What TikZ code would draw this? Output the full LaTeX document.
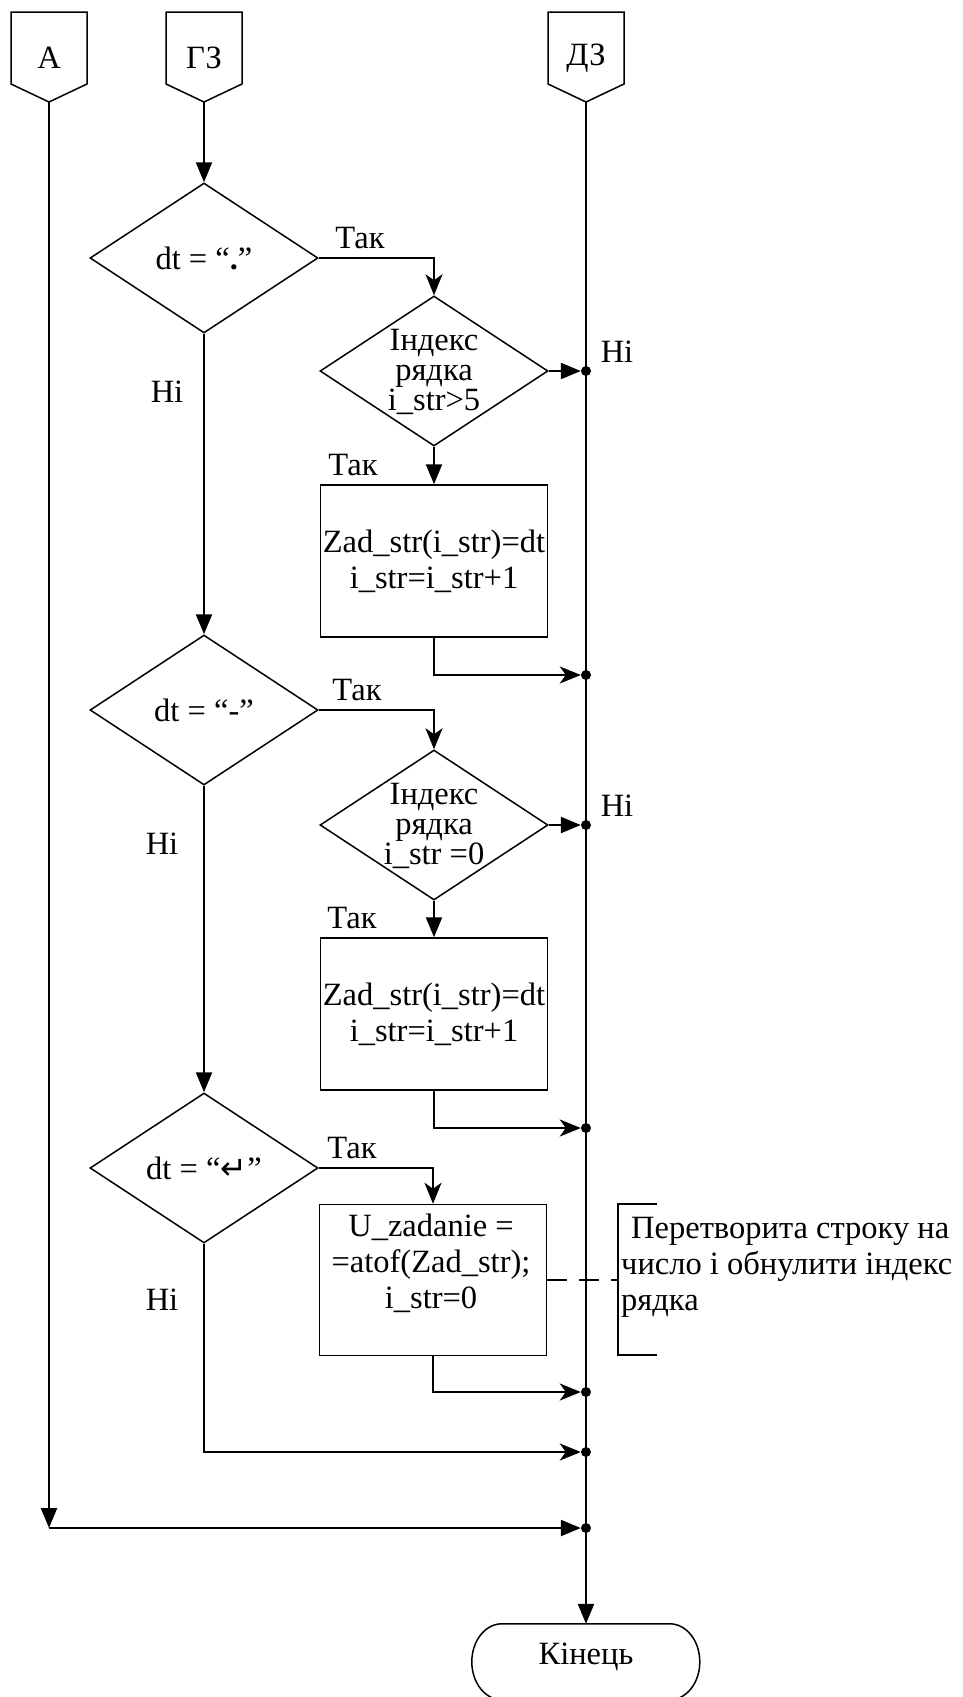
\documentclass[tikz,border=0pt]{standalone}
\usepackage{fontspec}
\setmainfont{Liberation Serif}
\newfontfamily\symfont{DejaVu Sans}
\usetikzlibrary{arrows.meta,shapes.geometric,calc}
\begin{document}
\begin{tikzpicture}[x=1pt,y=-1pt,
  every node/.style={font=\fontsize{32.5}{36}\selectfont, inner sep=0pt},
  shapeline/.style={line width=1.5pt},
  conn/.style={line width=2.3pt},
  arrT/.style={conn,-{Triangle[length=20pt,width=16pt]}},
  arrS/.style={conn,-{Stealth[length=21pt,width=17pt,inset=6pt]}},
  diam/.style={shape=diamond,draw,shapeline,minimum width=228pt,minimum height=150pt},
  procbox/.style={draw,shapeline,minimum width=227pt,minimum height=152pt,align=center},
  dtext/.style={align=center,font=\fontsize{32.5}{30}\selectfont},
  jdot/.style={circle,fill,minimum size=10pt},
]
\useasboundingbox (0,0) rectangle (962,1697);

% off-page connectors
\node (cA) at (49,58) {А};
\draw[shapeline] (cA.center) ++(-38,-46) -- ++(76,0) -- ++(0,72) -- ++(-38,18) -- ++(-38,-18) -- cycle;
\coordinate (cAp) at ($(cA.center)+(0,44)$);
\node (cG) at (204,58) {ГЗ};
\draw[shapeline] (cG.center) ++(-38,-46) -- ++(76,0) -- ++(0,72) -- ++(-38,18) -- ++(-38,-18) -- cycle;
\coordinate (cGp) at ($(cG.center)+(0,44)$);
\node (cD) at (586,58) {ДЗ};
\draw[shapeline] (cD.center) ++(-38,-46) -- ++(76,0) -- ++(0,72) -- ++(-38,18) -- ++(-38,-18) -- cycle;
\coordinate (cDp) at ($(cD.center)+(0,44)$);

% decisions and processes
\node[diam] (d1) at (204,258) {};
\node[dtext] (d1t) at (d1) {dt = “\textbf{.}”};
\node[diam] (d2) at (434,371) {};
\node[dtext] (d2t) at (434,372) {Індекс\\рядка\\i\_str>5};
\node[procbox] (b1) at (434,561) {Zad\_str(i\_str)=dt\\i\_str=i\_str+1};
\node[diam] (d3) at (204,710) {};
\node[dtext] (d3t) at (d3) {dt = “-”};
\node[diam] (d4) at (434,825) {};
\node[dtext] (d4t) at (434,826) {Індекс\\рядка\\i\_str =0};
\node[procbox] (b2) at (434,1014) {Zad\_str(i\_str)=dt\\i\_str=i\_str+1};
\node[diam] (d5) at (204,1168) {};
\node[dtext] (d5t) at (d5) {dt = “{\symfont\fontsize{32}{32}\selectfont ↵}”};
\node[procbox,minimum height=151pt] (b3) at (433,1280) {};
\node[align=center] (b3t) at (431,1263) {U\_zadanie =\\=atof(Zad\_str);\\i\_str=0};

% comment
\node[align=left,anchor=west] (cm) at (621,1267) {\hspace*{10pt}Перетворита строку на\\число і обнулити індекс\\рядка};
\coordinate (brT) at (618,1204);
\coordinate (brB) at (618,1355);
\draw[shapeline] ($(brT)+(39,0)$) -- (brT) -- (brB) -- ++(39,0);
\draw[shapeline,dash pattern=on 20pt off 12pt] (b3.east) -- (b3.east -| brT);

% terminal
\node[minimum width=228pt,minimum height=76pt] (kin) at (586,1662) {};
\node (kint) at (586,1657) {Кінець};
\draw[shapeline] (kin.north west) ++(30,0) -- ++(168,0)
  arc[start angle=90,end angle=-90,x radius=30pt,y radius=38pt] -- ++(-168,0)
  arc[start angle=270,end angle=90,x radius=30pt,y radius=38pt] -- cycle;

% junctions
\foreach \n/\yy in {1/371,2/675,3/825,4/1128,5/1392,6/1452,7/1528}
  \node[jdot] (j\n) at (586,\yy) {};
\coordinate (aC) at (49,1528);

% labels
\node (t1) at (360,238) {Так};
\node (t2) at (353,465) {Так};
\node (t3) at (357,690) {Так};
\node (t4) at (352,918) {Так};
\node (t5) at (352,1148) {Так};
\node (n1) at (617,352) {Ні};
\node (n2) at (617,806) {Ні};
\node (n3) at (167,392) {Ні};
\node (n4) at (162,844) {Ні};
\node (n5) at (162,1300) {Ні};

% connectors
\draw[conn] (cDp) -- (j1);
\draw[arrT] (cDp) -- (kin.north);
\draw[arrT] (cGp) -- (d1.north);
\draw[arrT] (cAp) -- (aC);
\draw[arrT] (aC) -- (j7);
\draw[arrS] (d1.east) -| (d2.north);
\draw[arrT] (d2.east) -- (j1);
\draw[arrT] (d2.south) -- (b1.north);
\draw[arrS] (b1.south) |- (j2);
\draw[arrT] (d1.south) -- (d3.north);
\draw[arrS] (d3.east) -| (d4.north);
\draw[arrT] (d4.east) -- (j3);
\draw[arrT] (d4.south) -- (b2.north);
\draw[arrS] (b2.south) |- (j4);
\draw[arrT] (d3.south) -- (d5.north);
\draw[arrS] (d5.east) -| (b3.north);
\draw[arrS] (b3.south) |- (j5);
\draw[arrS] (d5.south) |- (j6);
\end{tikzpicture}
\end{document}
